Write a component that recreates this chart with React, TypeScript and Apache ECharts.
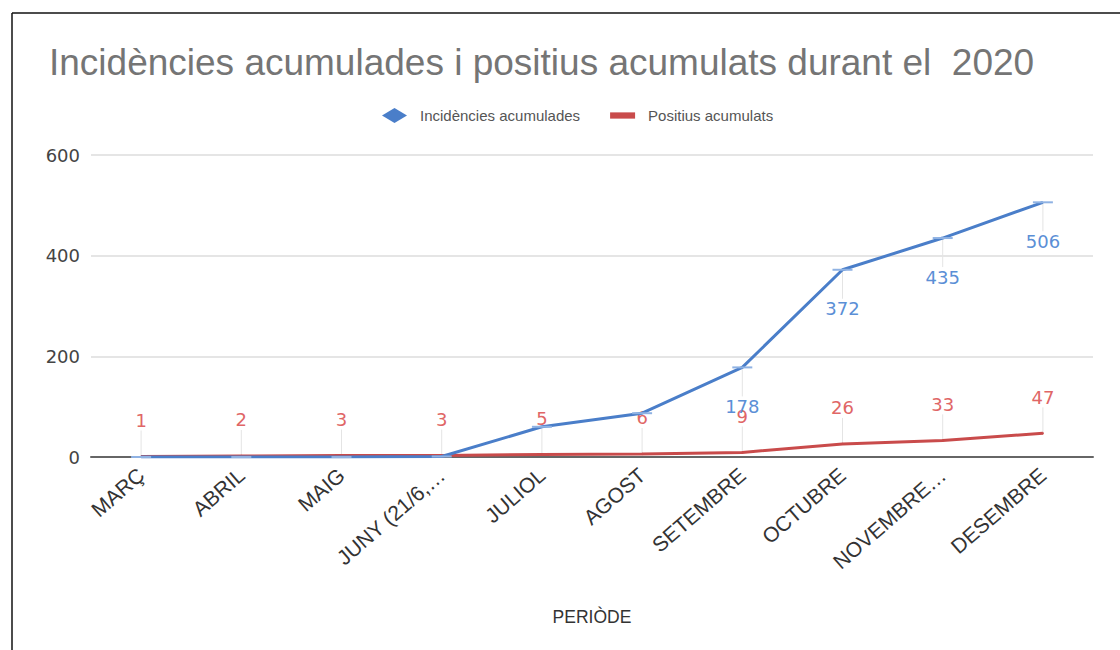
import React, { useEffect, useRef } from "react";
import * as echarts from "echarts";

const categories = ["MARÇ", "ABRIL", "MAIG", "JUNY (21/6,…", "JULIOL", "AGOST", "SETEMBRE", "OCTUBRE", "NOVEMBRE…", "DESEMBRE"];
const incidencies = [0, 0, 0, 1, 60, 87, 178, 372, 435, 506];
const positius = [1, 2, 3, 3, 5, 6, 9, 26, 33, 47];
const incidenciesLabelFrom = 6;
const yTicks = { min: 0, max: 600, interval: 200 };

const BLUE = "#4a7ec9";
const RED = "#c94b4b";
const LEADER_UP = 26;
const LEADER_DOWN = 29;

function leaderSeries(values: number[], dir: number, len: number, from: number) {
  return {
    type: "custom",
    silent: true,
    z: 1,
    data: values.map((v, i) => [i, v]).filter((d) => d[0] >= from),
    renderItem: (_params: any, api: any) => {
      const p = api.coord([api.value(0), api.value(1)]);
      return {
        type: "line",
        shape: { x1: p[0], y1: p[1], x2: p[0], y2: p[1] + dir * len },
        style: { stroke: "#e4e4e4", lineWidth: 1 },
      };
    },
  };
}

export default function App() {
  const ref = useRef<HTMLDivElement>(null);
  useEffect(() => {
    document.body.style.margin = "0";
    const chart = echarts.init(ref.current!, null, { renderer: "svg" });
    chart.setOption({
      animation: false,
      backgroundColor: "#fff",
      textStyle: { fontFamily: "Liberation Sans, Arial, sans-serif" },
      title: {
        text: "Incidències acumulades i positius acumulats durant el  2020",
        left: 44,
        top: 39,
        textStyle: { fontSize: 37, fontWeight: "normal", color: "#757575", fontFamily: "Liberation Sans, Arial" },
      },
      legend: {
        left: 377,
        top: 103,
        itemWidth: 25,
        itemHeight: 15,
        itemGap: 30,
        symbolKeepAspect: true,
        textStyle: { fontSize: 15, color: "#555", padding: [0, 0, 0, 8] },
        data: [
          { name: "Incidències acumulades", icon: "path://M12.5,0L25,7.5L12.5,15L0,7.5z", itemStyle: { color: BLUE } },
          { name: "Positius acumulats", icon: "path://M0,0h24v6h-24z", itemStyle: { color: RED } },
        ],
      },
      grid: { left: 91, right: 27, top: 155, bottom: 193, containLabel: false },
      xAxis: {
        type: "category",
        data: categories,
        boundaryGap: true,
        axisLine: { show: true, lineStyle: { color: "#666", width: 2 } },
        axisTick: { show: false },
        axisLabel: { rotate: 41, fontSize: 21, color: "#333", margin: 15, interval: 0 },
        name: "PERIÒDE",
        nameLocation: "middle",
        nameGap: 151,
        nameTextStyle: { fontSize: 17.5, color: "#333" },
      },
      yAxis: {
        type: "value",
        min: yTicks.min,
        max: yTicks.max,
        interval: yTicks.interval,
        axisLine: { show: false },
        axisTick: { show: false },
        axisLabel: { fontSize: 18, color: "#444", margin: 11, fontFamily: "DejaVu Sans" },
        splitLine: { lineStyle: { color: "#dcdcdc", width: 1.5 } },
      },
      series: [
        leaderSeries(positius, -1, LEADER_UP, 0),
        leaderSeries(incidencies, 1, LEADER_DOWN, incidenciesLabelFrom),
        {
          name: "Positius acumulats",
          type: "line",
          data: positius,
          z: 2,
          symbol: "circle",
          symbolSize: 2,
          showSymbol: true,
          itemStyle: { color: RED },
          lineStyle: { color: RED, width: 3 },
          label: { show: true, position: "top", distance: LEADER_UP, fontSize: 18, color: "#e06666", fontFamily: "DejaVu Sans" },
        },
        {
          name: "Incidències acumulades",
          type: "line",
          data: incidencies.map((v, i) => ({
            value: v,
            label: { show: i >= incidenciesLabelFrom },
          })),
          z: 3,
          symbol: "rect",
          symbolSize: [20, 2],
          itemStyle: { color: "#8fb2e3" },
          lineStyle: { color: BLUE, width: 3 },
          label: { show: true, position: "bottom", distance: LEADER_DOWN, fontSize: 18, color: "#5b8fd6", fontFamily: "DejaVu Sans" },
        },
      ],
      graphic: [
        { type: "line", shape: { x1: 12, y1: 13, x2: 1120, y2: 13 }, style: { stroke: "#111", lineWidth: 1.5 } },
        { type: "line", shape: { x1: 12, y1: 13, x2: 12, y2: 650 }, style: { stroke: "#111", lineWidth: 1.5 } },
      ],
    });
    return () => chart.dispose();
  }, []);
  return <div ref={ref} style={{ width: 1120, height: 650 }} />;
}
